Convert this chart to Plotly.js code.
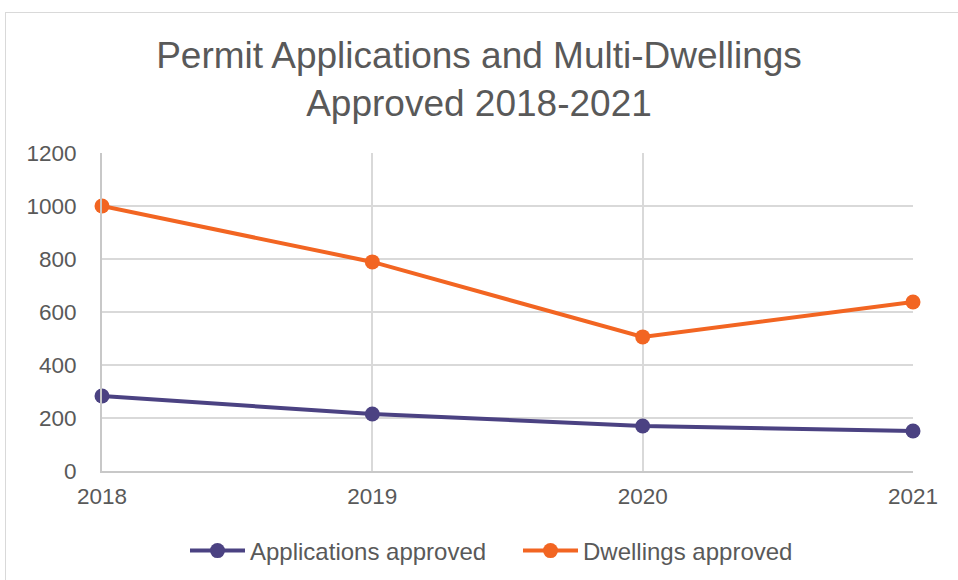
<!DOCTYPE html>
<html><head><meta charset="utf-8">
<script src="https://cdn.plot.ly/plotly-3.0.1.min.js"></script>
<style>
html,body{margin:0;padding:0;background:#fff;overflow:hidden;}
#frame{position:absolute;left:5px;top:12px;width:1200px;height:1200px;border:1px solid #d9d9d9;box-sizing:border-box;}
#chart{position:absolute;left:0;top:0;width:958px;height:580px;}
</style></head>
<body>
<div id="frame"></div>
<div id="chart"></div>
<script>
const years = [2018, 2019, 2020, 2021];
const applicationsApproved = [283, 215, 170, 151];
const dwellingsApproved = [1000, 789, 506, 638];
const yTicks = [0, 200, 400, 600, 800, 1000, 1200];

const traces = [
  {x: years, y: applicationsApproved, name: 'Applications approved', type: 'scatter', mode: 'lines+markers',
   line: {color: '#4b4282', width: 4}, marker: {color: '#4b4282', size: 15}, cliponaxis: false},
  {x: years, y: dwellingsApproved, name: 'Dwellings approved', type: 'scatter', mode: 'lines+markers',
   line: {color: '#f26522', width: 4}, marker: {color: '#f26522', size: 15}, cliponaxis: false}
];
const font = {family: 'Liberation Sans, Arial, sans-serif', color: '#595959'};
const layout = {
  width: 958, height: 580,
  paper_bgcolor: 'rgba(0,0,0,0)', plot_bgcolor: 'rgba(0,0,0,0)',
  margin: {l: 102, r: 45, t: 153, b: 109, autoexpand: false},
  font: font,
  title: {text: 'Permit Applications and Multi-Dwellings<br>Approved 2018-2021', x: 0.5, xanchor: 'center',
          yref: 'container', y: 1 - 68/580, yanchor: 'middle',
          font: {family: font.family, size: 37, color: '#595959'}},
  xaxis: {range: [2018, 2021], tickvals: years, ticktext: years.map(String), showgrid: true, gridcolor: '#d9d9d9', gridwidth: 2,
          showline: true, linecolor: '#c8c8c8', linewidth: 2, zeroline: false, ticks: 'outside', ticklen: 4, tickcolor: 'rgba(0,0,0,0)',
          tickfont: {size: 22.5, color: '#595959'}},
  yaxis: {range: [0, 1200], tickvals: yTicks, showgrid: true, gridcolor: '#d9d9d9', gridwidth: 2,
          showline: true, linecolor: '#c8c8c8', linewidth: 2, zeroline: false, ticks: 'outside', ticklen: 19, tickcolor: 'rgba(0,0,0,0)',
          tickfont: {size: 22.5, color: '#595959'}},
  showlegend: true,
  legend: {orientation: 'h', x: 185/958, xref: 'container', xanchor: 'left', yref: 'container', y: 1 - 551/580, yanchor: 'middle',
           font: {size: 24, color: '#595959'}, itemwidth: 55, entrywidth: 263, entrywidthmode: 'pixels', tracegroupgap: 0}
};
Plotly.newPlot('chart', traces, layout, {displayModeBar: false, staticPlot: true});
</script>
</body></html>
